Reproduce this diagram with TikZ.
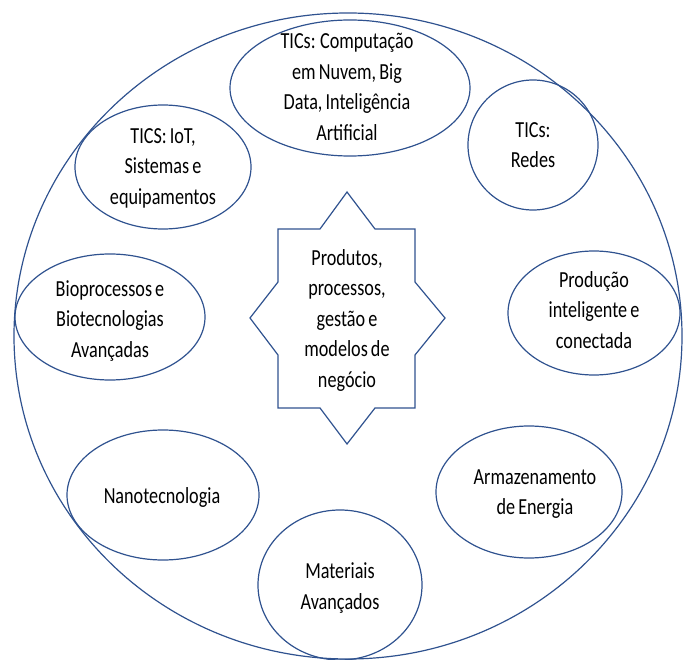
\documentclass[tikz,border=0pt]{standalone}
\usepackage{fontspec}
\setmainfont[FakeStretch=0.79,WordSpace=0.75]{Carlito}
\begin{document}
\begin{tikzpicture}[x=1pt,y=-1pt,
  outline/.style={draw={rgb,255:red,47;green,82;blue,143}, line width=1.2pt},
  label/.style={align=center, font=\fontsize{23}{30.5}\selectfont, text=black, inner sep=0pt}]
\useasboundingbox (0,0) rectangle (683,660);
% outer boundary
\draw[outline] (348,336) ellipse [x radius=334, y radius=323];
% technology areas
\draw[outline] (350,88) ellipse [x radius=120, y radius=68];
\draw[outline] (533,145) ellipse [x radius=65, y radius=65];
\draw[outline] (163,167) ellipse [x radius=88, y radius=62];
\draw[outline] (110,317) ellipse [x radius=95, y radius=63];
\draw[outline] (594,313) ellipse [x radius=86, y radius=62];
\draw[outline] (163,495) ellipse [x radius=96, y radius=65];
\draw[outline] (529,492) ellipse [x radius=93, y radius=66];
\draw[outline] (340,585) ellipse [x radius=82, y radius=75];
% central star
\draw[outline, line join=miter] (347,192) -- (375,229) -- (415,229) -- (415,282) -- (445,318)
  -- (415,355) -- (415,408) -- (375,408) -- (347,444) -- (320,408) -- (278,408)
  -- (278,355) -- (250,318) -- (278,282) -- (278,229) -- (320,229) -- cycle;
% labels
\node[label] (cloud) at (347,87) {TICs: Computação\\em Nuvem, Big\\Data, Inteligência\\Artificial};
\node[label] (redes) at (533,145) {TICs:\\Redes};
\node[label] (iot) at (163,168) {TICS: IoT,\\Sistemas e\\equipamentos};
\node[label] (bio) at (110,321) {Bioprocessos e\\Biotecnologias\\Avançadas};
\node[label] (prod) at (594,310) {Produção\\inteligente e\\conectada};
\node[label] (core) at (347,320) {Produtos,\\processos,\\gestão e\\modelos de\\negócio};
\node[label] (nano) at (162,497) {Nanotecnologia};
\node[label] (energia) at (535,494) {Armazenamento\\de Energia};
\node[label] (mat) at (340,588) {Materiais\\Avançados};
\end{tikzpicture}
\end{document}
